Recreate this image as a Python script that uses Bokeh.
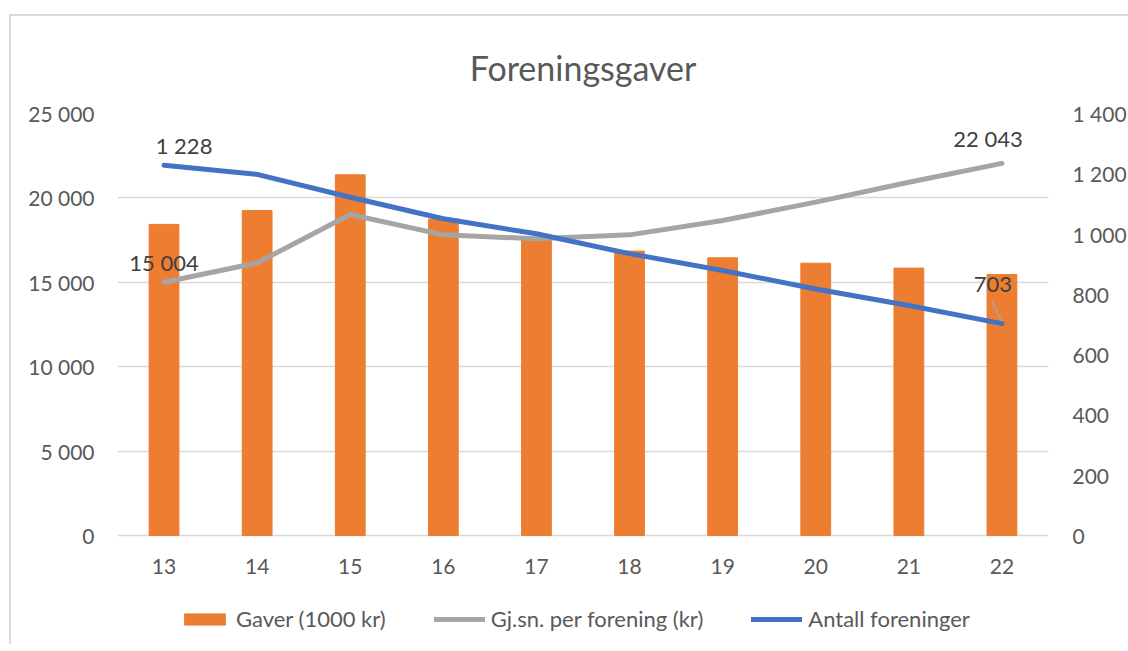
from bokeh.plotting import figure
from bokeh.models import (Range1d, LinearAxis, FixedTicker, Legend, LegendItem,
                          ColumnDataSource, Title)
from bokeh.embed import file_html
from bokeh.resources import INLINE
from bokeh.core.properties import value

# ---- data ----
years = [13, 14, 15, 16, 17, 18, 19, 20, 21, 22]
gaver = [18430, 19250, 21370, 18750, 17600, 16850, 16450, 16130, 15840, 15460]
gjsn = [15004, 16150, 19020, 17810, 17580, 17810, 18660, 19750, 20930, 22043]
antall = [1228, 1198, 1122, 1051, 1001, 935, 879, 818, 763, 703]
left_ticks = [0, 5000, 10000, 15000, 20000, 25000]
right_ticks = [0, 200, 400, 600, 800, 1000, 1200, 1400]
series_names = ["Gaver (1000 kr)", "Gj.sn. per forening (kr)", "Antall foreninger"]

FONT = "Lato"
TXT = "#595959"

# plot area: 422 px for the value scale, 101 px extra underneath for the
# category labels and the legend (drawn inside the frame)
DATA_H, EXTRA_H = 422, 101
ext = EXTRA_H / DATA_H
LMAX, RMAX = left_ticks[-1], right_ticks[-1]


def fmt(v):
    return f"{v:,}".replace(",", " ")


p = figure(frame_width=931, frame_height=DATA_H + EXTRA_H, output_backend="svg",
           toolbar_location=None,
           x_range=Range1d(12.5, 22.5), y_range=Range1d(-LMAX * ext, LMAX),
           min_border_left=106, min_border_top=97, min_border_right=64,
           min_border_bottom=8)
p.extra_y_ranges = {"right": Range1d(-RMAX * ext, RMAX)}
p.outline_line_color = None
p.background_fill_color = "white"
p.border_fill_color = "white"
p.styles = {"border-left": "2px solid #d9d9d9", "border-top": "2px solid #d9d9d9",
            "margin-left": "9px", "margin-top": "14px"}

p.title = Title(text="Foreningsgaver", align="center", text_font=FONT,
                text_font_size="34px", text_font_style="normal", text_color=TXT,
                standoff=52)

# axes
p.xaxis.visible = False
p.yaxis.ticker = FixedTicker(ticks=left_ticks)
p.yaxis.major_label_overrides = {t: fmt(t) for t in left_ticks}
ra = LinearAxis(y_range_name="right", ticker=FixedTicker(ticks=right_ticks))
ra.major_label_overrides = {t: fmt(t) for t in right_ticks}
p.add_layout(ra, "right")
for ax in [p.yaxis[0], ra]:
    ax.axis_line_color = None
    ax.major_tick_line_color = None
    ax.minor_tick_line_color = None
    ax.major_label_text_font = FONT
    ax.major_label_text_font_size = "21px"
    ax.major_label_text_color = TXT
p.yaxis[0].major_label_standoff = 17
ra.major_label_standoff = 18

p.xgrid.grid_line_color = None
p.ygrid.ticker = FixedTicker(ticks=left_ticks)
p.ygrid.grid_line_color = "#d9d9d9"
p.ygrid.grid_line_width = 1.3

src = ColumnDataSource(dict(x=years, gaver=gaver, gjsn=gjsn, antall=antall,
                            lab=[str(y) for y in years], zero=[0] * len(years)))

bars = p.vbar(x="x", top="gaver", width=0.32, source=src, color="#ED7D31")
gl = p.line(x="x", y="gjsn", source=src, line_color="#A5A5A5", line_width=5,
            line_cap="round", line_join="round")
bl = p.line(x="x", y="antall", source=src, line_color="#4472C4", line_width=5,
            line_cap="round", line_join="round", y_range_name="right")

# category labels under the zero line
p.text(x="x", y="zero", text="lab", source=src, y_offset=31,
       text_align="center", text_baseline="middle", text_font=value(FONT),
       text_font_size="21px", text_color=TXT)

# data labels
lab_left = ColumnDataSource(dict(
    x=[years[0], years[-1]], y=[gjsn[0], gjsn[-1]],
    t=[fmt(gjsn[0]), fmt(gjsn[-1])], dx=[0, -14], dy=[-20, -25]))
lab_right = ColumnDataSource(dict(
    x=[years[0], years[-1]], y=[antall[0], antall[-1]],
    t=[fmt(antall[0]), fmt(antall[-1])], dx=[20, -9], dy=[-20, -39]))
p.text(x="x", y="y", text="t", x_offset="dx", y_offset="dy", source=lab_left,
       text_align="center", text_baseline="middle", text_font=value(FONT),
       text_font_size="22px", text_color="#404040")
p.text(x="x", y="y", text="t", x_offset="dx", y_offset="dy", source=lab_right,
       text_align="center", text_baseline="middle", text_font=value(FONT),
       text_font_size="22px", text_color="#404040", y_range_name="right")
# leader line for last label
p.segment(x0=[years[-1] - 0.105], y0=[antall[-1] + 73], x1=[years[-1] - 0.005],
          y1=[antall[-1] + 8], line_color="#A5A5A5", line_width=1.5,
          y_range_name="right")

legend = Legend(items=[LegendItem(label=series_names[0], renderers=[bars]),
                       LegendItem(label=series_names[1], renderers=[gl]),
                       LegendItem(label=series_names[2], renderers=[bl])],
                orientation="horizontal", location=(62, 4),
                glyph_width=51, glyph_height=14, label_standoff=6, spacing=48,
                label_text_font=FONT, label_text_font_size="22px",
                label_text_color=TXT, border_line_color=None,
                background_fill_alpha=0, padding=4, margin=0)
p.add_layout(legend)

open("out.html", "w").write(file_html(p, INLINE))
